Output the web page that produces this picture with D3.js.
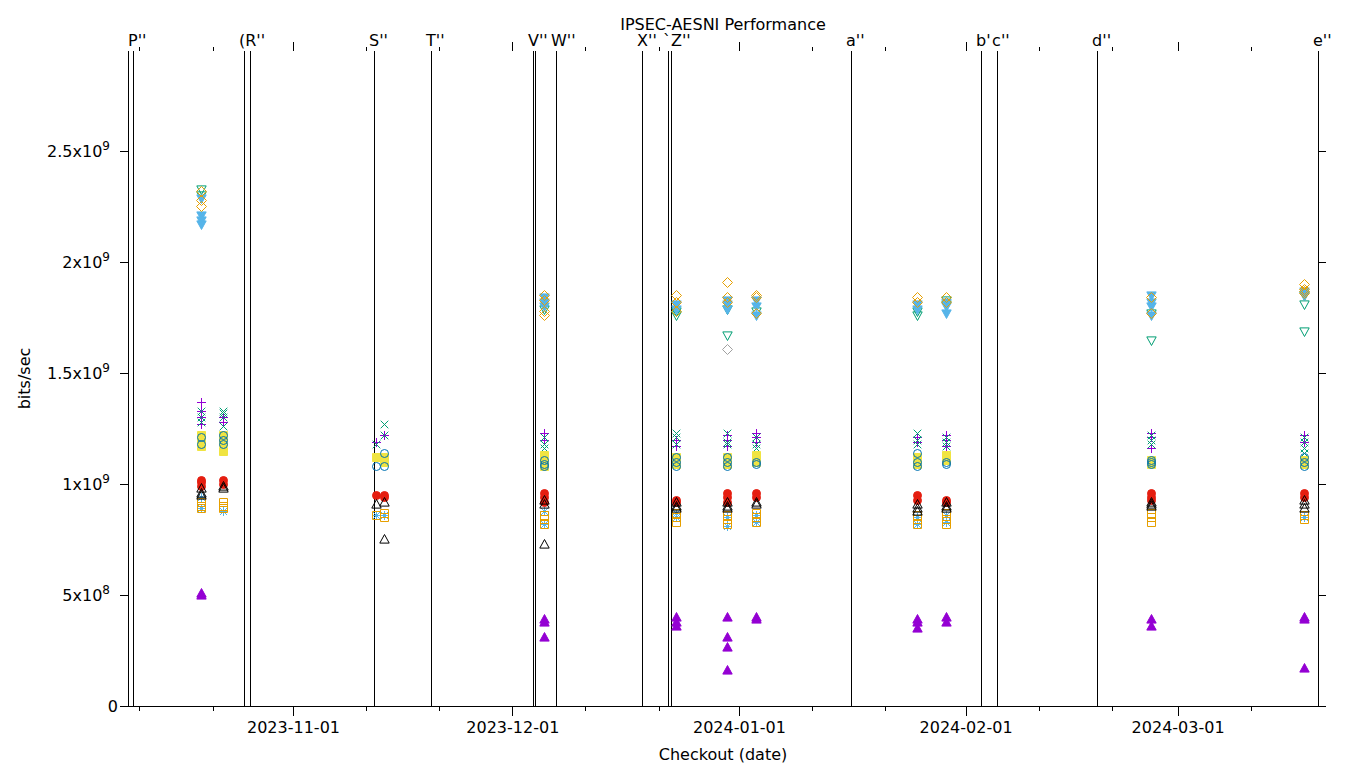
<!DOCTYPE html>
<html><head><meta charset="utf-8">
<script src="https://cdn.jsdelivr.net/npm/d3@7/dist/d3.min.js"></script>
<style>body{margin:0;background:#fff}svg text{font-family:"DejaVu Sans",sans-serif;fill:#000}</style>
</head><body><svg id="c" width="1360" height="768"></svg>
<script>
// ---------- data ----------
const chartTitle = "IPSEC-AESNI Performance";
const xTitle = "Checkout (date)";
const yTitle = "bits/sec";
const xDomain = ["2023-10-09T10:20", "2024-03-20T05:00"];
const yDomain = [0, 2.95e9];
const checkouts = ["2023-10-19T10:00","2023-10-22T10:00","2023-11-12T08:00","2023-11-13T11:00",
  "2023-12-05T08:00","2023-12-23T10:00","2023-12-30T09:00","2024-01-03T08:00",
  "2024-01-25T09:00","2024-01-29T08:00","2024-02-26T09:00","2024-03-18T07:00"];
const eventDates = ["2023-10-09T10:20","2023-10-10T03:00","2023-10-25T07:00","2023-10-26T03:00",
  "2023-11-12T02:00","2023-11-19T21:00","2023-12-03T20:00","2023-12-04T03:00","2023-12-06T23:30",
  "2023-12-18T18:00","2023-12-22T07:00","2023-12-22T17:00","2024-01-16T08:00","2024-02-03T03:00",
  "2024-02-05T07:30","2024-02-18T23:45","2024-03-20T05:00"];
const eventLabels = ["","P''","(R''","","S''","T''","V''","","W''","X''","`Z''","","a''","b'","c''","d''","e''"];
const xMajorTicks = ["2023-11-01","2023-12-01","2024-01-01","2024-02-01","2024-03-01"];
const xMinorTicks = ["2023-10-11","2023-10-21","2023-11-11","2023-11-21","2023-12-11","2023-12-21",
  "2024-01-11","2024-01-21","2024-02-11","2024-02-21","2024-03-11"];
const yTicks = [0, 5e8, 1e9, 1.5e9, 2e9, 2.5e9];
const yTickMantissa = ["0","5","1","1.5","2","2.5"];
const yTickExponent = ["","8","9","9","9","9"];

// series values per checkout (bits/sec)
const s1 = [[1.37e9,1.33e9,1.30e9,1.27e9],[1.30e9,1.28e9],[1.19e9],[1.22e9],[1.23e9,1.20e9],[1.20e9,1.17e9],
  [1.22e9,1.20e9,1.17e9],[1.23e9,1.21e9,1.19e9],[1.21e9,1.19e9],[1.22e9,1.20e9,1.17e9],[1.23e9,1.21e9,1.16e9],[1.22e9,1.19e9]];
const s2 = [[1.33e9,1.30e9,1.28e9],[1.33e9,1.32e9,1.30e9,1.26e9],[1.18e9],[1.27e9,1.22e9],[1.21e9,1.18e9,1.16e9],[1.23e9,1.21e9,1.18e9],
  [1.23e9,1.19e9,1.18e9],[1.21e9,1.18e9,1.16e9],[1.23e9,1.20e9,1.18e9],[1.21e9,1.19e9,1.17e9],[1.22e9,1.20e9,1.18e9],[1.21e9,1.19e9,1.16e9,1.14e9]];
const s3 = [[0.94e9,0.89e9],[0.88e9],[0.86e9],[0.86e9],[0.88e9,0.82e9],[0.87e9,0.85e9],
  [0.85e9,0.81e9],[0.86e9,0.83e9],[0.85e9,0.82e9],[0.86e9,0.83e9],[],[0.85e9]];
const s4 = [[0.92e9,0.90e9,0.89e9],[0.92e9,0.90e9,0.89e9],[0.86e9],[0.87e9,0.85e9],[0.86e9,0.84e9,0.82e9],[0.87e9,0.85e9,0.83e9],
  [0.86e9,0.84e9,0.82e9],[0.87e9,0.85e9,0.83e9],[0.86e9,0.84e9,0.82e9],[0.87e9,0.84e9,0.82e9],[0.87e9,0.85e9,0.83e9],[0.86e9,0.84e9]];
const s5 = [[1.22e9,1.20e9,1.17e9],[1.22e9,1.19e9,1.15e9],[1.12e9],[1.12e9,1.10e9],[1.13e9,1.10e9,1.08e9],[1.12e9,1.09e9],
  [1.12e9,1.09e9],[1.13e9,1.10e9],[1.12e9,1.09e9],[1.13e9,1.11e9],[1.11e9,1.09e9],[1.11e9,1.09e9]];
const s6 = [[1.21e9,1.18e9],[1.22e9,1.20e9,1.18e9],[1.08e9],[1.14e9,1.08e9],[1.11e9,1.09e9,1.08e9],[1.12e9,1.10e9,1.08e9],
  [1.12e9,1.10e9,1.08e9],[1.10e9,1.09e9],[1.14e9,1.10e9,1.08e9],[1.10e9,1.09e9],[1.11e9,1.10e9,1.09e9],[1.12e9,1.10e9,1.08e9]];
const s7 = [[1.02e9,1.01e9,0.99e9],[1.02e9,1.00e9],[0.95e9],[0.95e9,0.94e9],[0.96e9,0.94e9,0.92e9],[0.93e9,0.92e9],
  [0.96e9,0.94e9,0.92e9],[0.96e9,0.94e9],[0.95e9,0.93e9],[0.93e9,0.92e9],[0.96e9,0.94e9,0.93e9],[0.96e9,0.94e9]];
const s8 = [[0.98e9,0.96e9,0.95e9],[0.99e9,0.98e9],[0.91e9],[0.92e9,0.75e9],[0.93e9,0.91e9,0.73e9],[0.92e9,0.90e9,0.89e9],
  [0.92e9,0.90e9,0.89e9],[0.92e9,0.91e9],[0.91e9,0.89e9,0.88e9],[0.92e9,0.90e9,0.89e9],[0.92e9,0.91e9,0.90e9],[0.93e9,0.91e9,0.89e9]];
const s9 = [[0.51e9,0.50e9],[],[],[],[0.39e9,0.38e9,0.31e9],[0.40e9,0.38e9,0.36e9],
  [0.40e9,0.31e9,0.265e9,0.16e9],[0.40e9,0.39e9],[0.39e9,0.38e9,0.35e9],[0.40e9,0.38e9],[0.39e9,0.36e9],[0.40e9,0.39e9,0.17e9]];
const s10 = [[2.33e9,2.30e9],[],[],[],[1.79e9],[1.78e9,1.76e9],
  [1.79e9,1.67e9],[1.78e9],[1.78e9,1.76e9],[1.83e9,1.81e9],[1.77e9,1.65e9],[1.85e9,1.81e9,1.69e9]];
const s11 = [[2.29e9,2.21e9,2.19e9,2.17e9],[],[],[],[1.84e9,1.82e9,1.80e9],[1.81e9,1.79e9],
  [1.83e9,1.81e9,1.79e9],[1.83e9,1.80e9,1.76e9],[1.81e9,1.79e9],[1.82e9,1.80e9,1.77e9],[1.85e9,1.82e9,1.80e9,1.76e9],[1.87e9,1.85e9]];
const s12 = [[2.32e9,2.28e9,2.25e9],[],[],[],[1.85e9,1.83e9,1.78e9,1.76e9],[1.85e9,1.82e9,1.78e9],
  [1.91e9,1.84e9,1.82e9],[1.85e9,1.84e9,1.77e9],[1.84e9,1.82e9],[1.84e9,1.82e9],[1.84e9,1.77e9],[1.90e9,1.88e9,1.87e9,1.86e9]];
const s13 = [[],[],[],[],[],[],[1.61e9],[],[],[],[],[]];

// ---------- styles ----------
const seriesList = [s1,s2,s3,s4,s5,s6,s7,s8,s9,s10,s11,s12,s13];
const seriesColor = ["#9400d3","#009e73","#56b4e9","#e69f00","#f0e442","#0072b2","#e51e10","#000000",
  "#9400d3","#009e73","#56b4e9","#e69f00","#a0a0a0"];
const seriesShape = ["plus","cross","star","square","squareF","circle","circleF","tri","triF",
  "triDown","triDownF","diamond","diamond"];

const svg = d3.select("#c");
const L = 128, R = 1318, T = 51, B = 706;
const parse = d3.isoParse;
const x = d3.scaleTime().domain(xDomain.map(parse)).range([L, R]);
const y = d3.scaleLinear().domain(yDomain).range([B, T]);

function shapePath(t){
  const r = 4.5;
  switch(t){
    case "plus": return `M${-r},0H${r}M0,${-r}V${r}`;
    case "cross": return `M${-3.8},${-3.8}L3.8,3.8M-3.8,3.8L3.8,-3.8`;
    case "star": return `M${-r},0H${r}M0,${-r}V${r}M-3.5,-3.5L3.5,3.5M-3.5,3.5L3.5,-3.5`;
    case "square": case "squareF": return "M-4,-4H4V4H-4Z";
    case "circle": case "circleF": return "M4,0A4,4 0 1 1 -4,0A4,4 0 1 1 4,0Z";
    case "tri": case "triF": return "M0,-5L4.7,3.6H-4.7Z";
    case "triDown": case "triDownF": return "M0,5L4.7,-3.6H-4.7Z";
    case "diamond": return "M0,-5L5,0L0,5L-5,0Z";
  }
}
const filled = t => t.endsWith("F");

// event lines
svg.append("g").selectAll("line").data(eventDates).join("line")
  .attr("x1", d => Math.round(x(parse(d))) + 0.5).attr("x2", d => Math.round(x(parse(d))) + 0.5)
  .attr("y1", T).attr("y2", B).attr("stroke", "#000").attr("stroke-width", 1);
svg.append("g").selectAll("text").data(eventDates).join("text")
  .attr("x", d => x(parse(d)) - 5).attr("y", 46)
  .attr("font-size", 16).text((d, i) => eventLabels[i]);

// axes
const gx = svg.append("g").attr("transform", `translate(0,${B})`)
  .call(d3.axisBottom(x).tickValues(xMajorTicks.map(parse)).tickSize(10).tickSizeOuter(0).tickPadding(6)
    .tickFormat(d3.timeFormat("%Y-%m-%d")));
gx.select(".domain").attr("d", `M${L-8},0.5H${R+8}`);
gx.selectAll("text").attr("font-size", 16).attr("font-family", "DejaVu Sans");
svg.append("g").attr("transform", `translate(0,${B})`)
  .call(d3.axisBottom(x).tickValues(xMinorTicks.map(parse)).tickSize(5).tickFormat(""))
  .select(".domain").remove();
svg.append("g").attr("transform", `translate(0,${T})`)
  .call(d3.axisTop(x).tickValues(xMajorTicks.map(parse)).tickSize(9).tickFormat(""))
  .select(".domain").remove();
svg.append("g").attr("transform", `translate(0,${T})`)
  .call(d3.axisTop(x).tickValues(xMinorTicks.map(parse)).tickSize(4).tickFormat(""))
  .select(".domain").remove();

const gy = svg.append("g").attr("transform", `translate(${L},0)`)
  .call(d3.axisLeft(y).tickValues(yTicks).tickSize(8).tickSizeOuter(0).tickPadding(10).tickFormat(""));
gy.select(".domain").attr("d", `M0.5,${T}V${B}`);
gy.selectAll(".tick").each(function(d, i){
  const t = d3.select(this).append("text").attr("x", -18).attr("dy", "0.35em")
    .attr("text-anchor", "end").attr("font-size", 16).attr("font-family", "DejaVu Sans").attr("fill", "#000");
  if (yTickExponent[i]) {
    t.append("tspan").text(yTickMantissa[i] + "x10");
    t.append("tspan").attr("font-size", 12).attr("dy", "-0.55em").text(yTickExponent[i]);
  } else {
    t.attr("x", -10).text(yTickMantissa[i]);
  }
});
svg.append("g").attr("transform", `translate(${R},0)`)
  .call(d3.axisRight(y).tickValues(yTicks).tickSize(8).tickSizeOuter(0).tickFormat(""))
  .select(".domain").remove();
svg.selectAll(".tick line").attr("shape-rendering", "crispEdges");

// titles
svg.append("text").attr("x", (L + R) / 2).attr("y", 30).attr("text-anchor", "middle").attr("font-size", 16).text(chartTitle);
svg.append("text").attr("x", (L + R) / 2).attr("y", 760).attr("text-anchor", "middle").attr("font-size", 16).text(xTitle);
svg.append("text").attr("transform", `translate(30,${(T + B) / 2}) rotate(-90)`).attr("text-anchor", "middle")
  .attr("font-size", 16).text(yTitle);

// points
const gp = svg.append("g");
seriesList.forEach((series, si) => {
  const pts = [];
  series.forEach((vals, ci) => vals.forEach(v => pts.push({d: parse(checkouts[ci]), v})));
  const t = seriesShape[si], c = seriesColor[si];
  gp.append("g").selectAll("path").data(pts).join("path")
    .attr("transform", p => `translate(${Math.round(x(p.d)) + 0.5},${Math.round(y(p.v)) + 0.5})`)
    .attr("d", shapePath(t))
    .attr("fill", filled(t) ? c : "none").attr("stroke", c).attr("stroke-width", 1);
});
</script></body></html>
